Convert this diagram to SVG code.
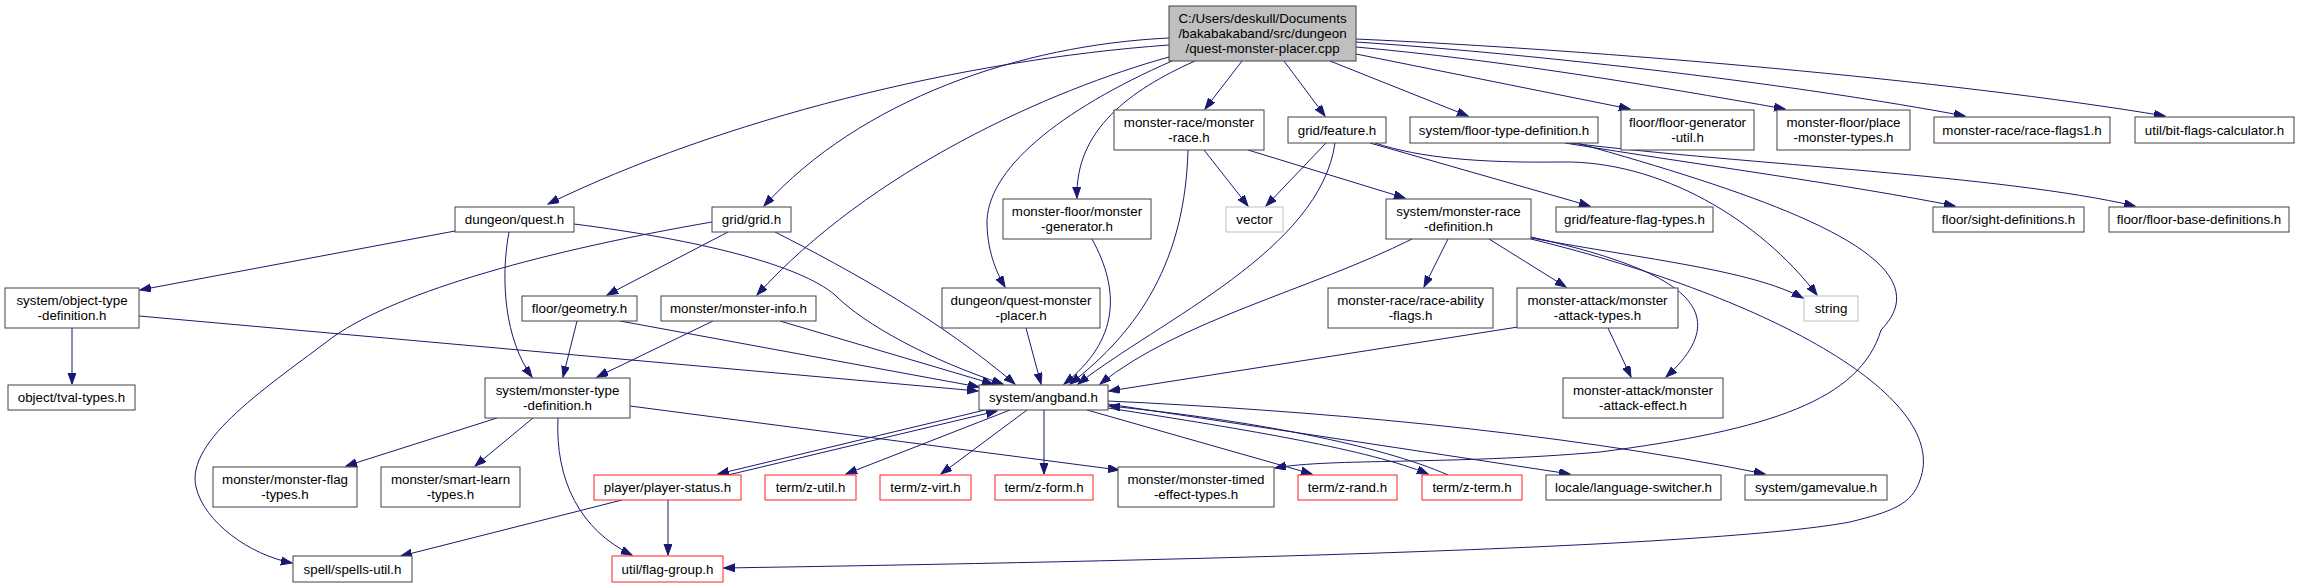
<svg xmlns="http://www.w3.org/2000/svg" width="2299" height="588" viewBox="0 0 2299 588">
<style>
.n rect{fill:#fff;stroke:#404040;stroke-width:1}
.r rect{stroke:#ff2020}
.g rect{stroke:#bfbfbf}
.root rect{fill:#bfbfbf;stroke:#404040}
text{font-family:"Liberation Sans",Arial,Helvetica,sans-serif;font-size:13.33px;text-anchor:middle;fill:#000}
#edges path{fill:none;stroke:#191970;stroke-width:1;marker-end:url(#ah)}
</style>
<defs>
<marker id="ah" markerUnits="userSpaceOnUse" markerWidth="12" markerHeight="10" refX="11" refY="4" orient="auto">
<path d="M0,0 L11,4 L0,8 z" fill="#191970" stroke="#191970" stroke-width="1"/>
</marker>
</defs>
<rect width="2299" height="588" fill="#fff"/>
<g id="edges">
<path d="M1169,45 C960,60 720,120 548,204"/>
<path d="M1169,38 C1020,45 860,100 764,206"/>
<path d="M1169,57 C1050,90 870,170 757,295"/>
<path d="M1172,61 C1060,110 985,170 987,225 C988,255 998,275 1005,287"/>
<path d="M1195,61 C1130,90 1075,130 1077,198"/>
<path d="M1242,61 L1205,109"/>
<path d="M1284,61 L1325,116"/>
<path d="M1330,61 L1468,116"/>
<path d="M1356,54 L1630,109"/>
<path d="M1356,47 C1500,60 1650,85 1785,109"/>
<path d="M1356,42 C1550,55 1800,85 1965,116"/>
<path d="M1356,39 C1600,50 1950,80 2165,116"/>
<path d="M1204,150 L1248,206"/>
<path d="M1188,150 C1185,260 1140,330 1070,384"/>
<path d="M1248,150 L1405,198"/>
<path d="M1326,143 L1266,206"/>
<path d="M1335,143 C1320,250 1160,320 1078,384"/>
<path d="M1370,143 L1590,206"/>
<path d="M1375,143 C1420,158 1480,163 1560,162 C1660,160 1760,220 1817,295"/>
<path d="M1565,143 C1700,165 1850,185 1955,206"/>
<path d="M1570,143 C1750,165 2000,175 2135,206"/>
<path d="M1577,143 C1780,200 1950,260 1881,330 C1860,400 1770,430 1600,452 C1450,465 1330,458 1275,468"/>
<path d="M1412,239 C1310,290 1180,320 1100,384"/>
<path d="M1448,239 L1424,287"/>
<path d="M1489,239 L1566,287"/>
<path d="M1531,237 C1680,270 1740,310 1666,377"/>
<path d="M1531,238 C1650,260 1750,270 1803,298"/>
<path d="M1531,239 C1780,300 1950,400 1920,480 C1912,505 1890,512 1850,522 C1700,550 1100,562 724,568"/>
<path d="M1518,327 L1109,391"/>
<path d="M1608,328 L1631,377"/>
<path d="M1026,328 L1041,384"/>
<path d="M1092,239 C1120,290 1120,340 1064,384"/>
<path d="M728,232 L607,295"/>
<path d="M775,232 C850,270 940,320 1015,384"/>
<path d="M712,222 C550,250 400,290 333,337 C270,385 185,440 196,487 C204,522 250,555 292,563"/>
<path d="M455,231 L140,290"/>
<path d="M509,232 C500,280 505,340 532,377"/>
<path d="M574,224 C700,240 800,265 835,295 C865,325 930,360 1003,384"/>
<path d="M577,321 L563,377"/>
<path d="M620,321 L979,387"/>
<path d="M713,321 L597,377"/>
<path d="M780,321 L993,384"/>
<path d="M72,328 L72,384"/>
<path d="M139,316 L978,391"/>
<path d="M497,418 L346,466"/>
<path d="M533,418 L475,466"/>
<path d="M558,418 C555,480 580,530 632,555"/>
<path d="M630,406 L1119,470"/>
<path d="M985,410 L718,474"/>
<path d="M728,475 L997,411"/>
<path d="M622,500 L401,556"/>
<path d="M668,500 L668,555"/>
<path d="M1010,410 L846,474"/>
<path d="M1027,410 L941,474"/>
<path d="M1044,410 L1044,474"/>
<path d="M1087,410 L1312,474"/>
<path d="M1108,408 C1250,430 1370,450 1428,474"/>
<path d="M1448,475 C1380,445 1250,420 1109,406"/>
<path d="M1108,404 L1570,474"/>
<path d="M1108,401 C1300,410 1550,430 1765,474"/>
</g>
<g id="root" class="n root"><rect x="1169" y="6" width="187" height="55"/><text x="1262.5" y="23">C:/Users/deskull/Documents</text><text x="1262.5" y="38">/bakabakaband/src/dungeon</text><text x="1262.5" y="53">/quest-monster-placer.cpp</text></g>
<g id="n_mrace" class="n"><rect x="1114" y="110" width="150" height="40"/><text x="1189" y="127">monster-race/monster</text><text x="1189" y="142">-race.h</text></g>
<g id="n_feature" class="n"><rect x="1288" y="117" width="98" height="26"/><text x="1337" y="134.5">grid/feature.h</text></g>
<g id="n_floortype" class="n"><rect x="1410" y="117" width="188" height="26"/><text x="1504" y="134.5">system/floor-type-definition.h</text></g>
<g id="n_floorgen" class="n"><rect x="1621" y="110" width="133" height="40"/><text x="1687.5" y="127">floor/floor-generator</text><text x="1687.5" y="142">-util.h</text></g>
<g id="n_placemon" class="n"><rect x="1777" y="110" width="133" height="40"/><text x="1843.5" y="127">monster-floor/place</text><text x="1843.5" y="142">-monster-types.h</text></g>
<g id="n_raceflags1" class="n"><rect x="1934" y="117" width="176" height="26"/><text x="2022" y="134.5">monster-race/race-flags1.h</text></g>
<g id="n_bitflags" class="n"><rect x="2135" y="117" width="159" height="26"/><text x="2214.5" y="134.5">util/bit-flags-calculator.h</text></g>
<g id="n_quest" class="n"><rect x="455" y="207" width="119" height="25"/><text x="514.5" y="224">dungeon/quest.h</text></g>
<g id="n_grid" class="n"><rect x="712" y="207" width="79" height="25"/><text x="751.5" y="224">grid/grid.h</text></g>
<g id="n_mgen" class="n"><rect x="1003" y="199" width="148" height="40"/><text x="1077" y="216">monster-floor/monster</text><text x="1077" y="231">-generator.h</text></g>
<g id="n_vector" class="n g"><rect x="1226" y="207" width="57" height="25"/><text x="1254.5" y="224">vector</text></g>
<g id="n_mracedef" class="n"><rect x="1386" y="199" width="145" height="40"/><text x="1458.5" y="216">system/monster-race</text><text x="1458.5" y="231">-definition.h</text></g>
<g id="n_featflag" class="n"><rect x="1556" y="207" width="157" height="25"/><text x="1634.5" y="224">grid/feature-flag-types.h</text></g>
<g id="n_sight" class="n"><rect x="1933" y="207" width="151" height="25"/><text x="2008.5" y="224">floor/sight-definitions.h</text></g>
<g id="n_floorbase" class="n"><rect x="2109" y="207" width="180" height="25"/><text x="2199" y="224">floor/floor-base-definitions.h</text></g>
<g id="n_objdef" class="n"><rect x="5" y="288" width="134" height="40"/><text x="72" y="305">system/object-type</text><text x="72" y="320">-definition.h</text></g>
<g id="n_geometry" class="n"><rect x="522" y="296" width="115" height="25"/><text x="579.5" y="313">floor/geometry.h</text></g>
<g id="n_minfo" class="n"><rect x="661" y="296" width="155" height="25"/><text x="738.5" y="313">monster/monster-info.h</text></g>
<g id="n_qmp" class="n"><rect x="942" y="288" width="158" height="40"/><text x="1021" y="305">dungeon/quest-monster</text><text x="1021" y="320">-placer.h</text></g>
<g id="n_raceability" class="n"><rect x="1328" y="288" width="165" height="40"/><text x="1410.5" y="305">monster-race/race-ability</text><text x="1410.5" y="320">-flags.h</text></g>
<g id="n_atktypes" class="n"><rect x="1517" y="288" width="161" height="40"/><text x="1597.5" y="305">monster-attack/monster</text><text x="1597.5" y="320">-attack-types.h</text></g>
<g id="n_string" class="n g"><rect x="1804" y="296" width="54" height="25"/><text x="1831" y="313">string</text></g>
<g id="n_tval" class="n"><rect x="8" y="385" width="127" height="25"/><text x="71.5" y="402">object/tval-types.h</text></g>
<g id="n_mtypedef" class="n"><rect x="485" y="378" width="145" height="40"/><text x="557.5" y="395">system/monster-type</text><text x="557.5" y="410">-definition.h</text></g>
<g id="n_angband" class="n"><rect x="979" y="385" width="129" height="25"/><text x="1043.5" y="402">system/angband.h</text></g>
<g id="n_atkeffect" class="n"><rect x="1563" y="378" width="160" height="40"/><text x="1643" y="395">monster-attack/monster</text><text x="1643" y="410">-attack-effect.h</text></g>
<g id="n_mflag" class="n"><rect x="213" y="467" width="144" height="40"/><text x="285" y="484">monster/monster-flag</text><text x="285" y="499">-types.h</text></g>
<g id="n_smart" class="n"><rect x="381" y="467" width="139" height="40"/><text x="450.5" y="484">monster/smart-learn</text><text x="450.5" y="499">-types.h</text></g>
<g id="n_pstatus" class="n r"><rect x="594" y="475" width="147" height="25"/><text x="667.5" y="492">player/player-status.h</text></g>
<g id="n_zutil" class="n r"><rect x="765" y="475" width="91" height="25"/><text x="810.5" y="492">term/z-util.h</text></g>
<g id="n_zvirt" class="n r"><rect x="880" y="475" width="91" height="25"/><text x="925.5" y="492">term/z-virt.h</text></g>
<g id="n_zform" class="n r"><rect x="995" y="475" width="98" height="25"/><text x="1044" y="492">term/z-form.h</text></g>
<g id="n_timed" class="n"><rect x="1118" y="467" width="156" height="40"/><text x="1196" y="484">monster/monster-timed</text><text x="1196" y="499">-effect-types.h</text></g>
<g id="n_zrand" class="n r"><rect x="1298" y="475" width="99" height="25"/><text x="1347.5" y="492">term/z-rand.h</text></g>
<g id="n_zterm" class="n r"><rect x="1422" y="475" width="100" height="25"/><text x="1472" y="492">term/z-term.h</text></g>
<g id="n_lang" class="n"><rect x="1546" y="475" width="175" height="25"/><text x="1633.5" y="492">locale/language-switcher.h</text></g>
<g id="n_gamevalue" class="n"><rect x="1745" y="475" width="142" height="25"/><text x="1816" y="492">system/gamevalue.h</text></g>
<g id="n_spells" class="n"><rect x="293" y="556" width="119" height="26"/><text x="352.5" y="573.5">spell/spells-util.h</text></g>
<g id="n_flaggroup" class="n r"><rect x="612" y="556" width="111" height="26"/><text x="667.5" y="573.5">util/flag-group.h</text></g>
</svg>
